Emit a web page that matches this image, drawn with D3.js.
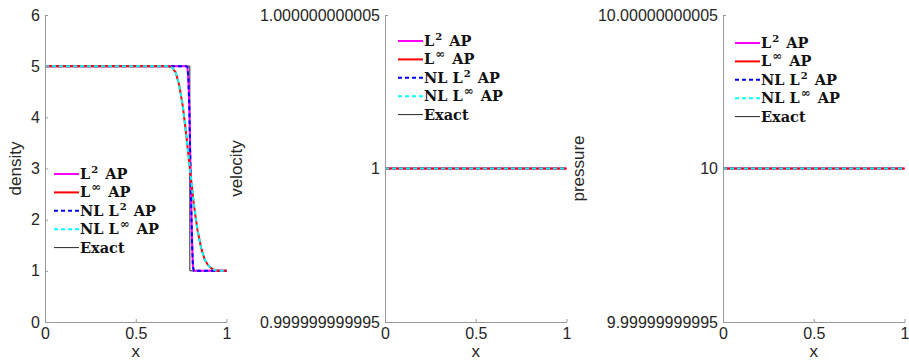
<!DOCTYPE html>
<html>
<head>
<meta charset="utf-8">
<script src="https://cdn.jsdelivr.net/npm/d3@7"></script>
<style>
  body { margin: 0; background: #fff; }
  svg { display: block; }
  .tick text { font-family: "Liberation Sans", Arial, sans-serif; font-size: 16px; fill: #262626; }
  .lab { font-family: "Liberation Sans", Arial, sans-serif; font-size: 17px; fill: #262626; }
  .leg { font-family: "DejaVu Serif", "Liberation Serif", serif; font-weight: bold; font-size: 14.5px; fill: #111; }
</style>
</head>
<body>
<div id="chart"></div>
<script>
const width = 909, height = 362;

// density curves
const xSharp = [0, 0.78, 0.785, 0.79, 0.795, 0.80, 0.805, 0.81, 0.815, 0.82, 1];
const rhoSharp = [5, 5, 4.98, 4.75, 4.2, 3.3, 2.4, 1.6, 1.08, 1.0, 1];
const xSmooth = [0, 0.68, 0.70, 0.72, 0.74, 0.76, 0.78, 0.80, 0.82, 0.84, 0.86, 0.88, 0.90, 0.92, 0.94, 0.96, 1];
const rhoSmooth = [5, 5, 4.97, 4.88, 4.62, 4.2, 3.6, 2.95, 2.3, 1.8, 1.45, 1.22, 1.1, 1.04, 1.01, 1.0, 1];
const xExact = [0, 0.798, 0.798, 1];
const rhoExact = [5, 5, 1, 1];

// velocity and pressure stay constant
const xConst = [0, 1];
const velocity = [1, 1];
const pressure = [10, 10];

const xTicks = [0, 0.5, 1];
const xTickLabels = ["0", "0.5", "1"];
const rhoTicks = [0, 1, 2, 3, 4, 5, 6];
const velTicks = [1 - 5e-12, 1, 1 + 5e-12];
const velTickLabels = ["0.999999999995", "1", "1.000000000005"];
const presTicks = [10 - 5e-11, 10, 10 + 5e-11];
const presTickLabels = ["9.99999999995", "10", "10.00000000005"];

const seriesNames = [["L", "2", "AP"], ["L", "∞", "AP"], ["NL L", "2", "AP"], ["NL L", "∞", "AP"], ["Exact", "", ""]];
const seriesColors = ["#ff00ff", "#ff0000", "#0000ff", "#00ffff", "#262626"];
const seriesDash = [null, null, "4,3", "4,3", null];
const seriesWidth = [2, 2, 2, 2, 1];
const drawOrder = [4, 0, 2, 1, 3]; // exact goes underneath

const svg = d3.select("#chart").append("svg").attr("width", width).attr("height", height);

const panels = [
  { left: 45, ylabel: "density", ylabX: 21, domain: [0, 6], ticks: rhoTicks, labels: rhoTicks.map(String),
    series: [[xSharp, rhoSharp], [xSmooth, rhoSmooth], [xSharp, rhoSharp], [xSmooth, rhoSmooth], [xExact, rhoExact]],
    legX: 54, legY: 174 },
  { left: 385, ylabel: "velocity", ylabX: 242, domain: [velTicks[0], velTicks[2]], ticks: velTicks, labels: velTickLabels,
    series: d3.range(5).map(() => [xConst, velocity]), legX: 398, legY: 41 },
  { left: 723, ylabel: "pressure", ylabX: 584, domain: [presTicks[0], presTicks[2]], ticks: presTicks, labels: presTickLabels,
    series: d3.range(5).map(() => [xConst, pressure]), legX: 735, legY: 43 }
];

const plotTop = 15, plotBottom = 322, pw = 181.5;

panels.forEach(p => {
  const g = svg.append("g");
  const x = d3.scaleLinear().domain([0, 1]).range([p.left, p.left + pw]);
  const y = d3.scaleLinear().domain(p.domain).range([plotBottom, plotTop]);

  // curves
  const line = d3.line().x(d => x(d[0])).y(d => y(d[1]));
  drawOrder.forEach(i => {
    const s = p.series[i];
    g.append("path")
      .datum(s[0].map((v, j) => [v, s[1][j]]))
      .attr("d", line)
      .attr("fill", "none")
      .attr("stroke", seriesColors[i])
      .attr("stroke-width", seriesWidth[i])
      .attr("stroke-dasharray", seriesDash[i]);
  });

  // axes
  const xa = g.append("g").attr("transform", `translate(0,${plotBottom})`)
    .call(d3.axisBottom(x).tickValues(xTicks).tickFormat((d, i) => xTickLabels[i]).tickSizeInner(-3).tickSizeOuter(0).tickPadding(6));
  const ya = g.append("g").attr("transform", `translate(${p.left},0)`)
    .call(d3.axisLeft(y).tickValues(p.ticks).tickFormat((d, i) => p.labels[i]).tickSizeInner(-3).tickSizeOuter(0).tickPadding(5));
  [xa, ya].forEach(a => {
    a.select(".domain").attr("stroke", "#999");
    a.selectAll(".tick line").attr("stroke", "#999");
  });

  g.append("text").attr("class", "lab").attr("x", p.left + pw / 2).attr("y", 357)
    .attr("text-anchor", "middle").text("x");
  g.append("text").attr("class", "lab").attr("text-anchor", "middle")
    .attr("transform", `translate(${p.ylabX},${(plotTop + plotBottom) / 2}) rotate(-90)`).text(p.ylabel);

  // legend
  seriesNames.forEach((nm, i) => {
    const yy = p.legY + i * 18.4;
    g.append("line").attr("x1", p.legX).attr("x2", p.legX + 25).attr("y1", yy).attr("y2", yy)
      .attr("stroke", seriesColors[i]).attr("stroke-width", seriesWidth[i]).attr("stroke-dasharray", seriesDash[i]);
    const t = g.append("text").attr("class", "leg").attr("x", p.legX + 26).attr("y", yy + 5);
    t.append("tspan").text(nm[0]);
    if (nm[1]) t.append("tspan").attr("font-size", nm[1] === "2" ? 10 : 12).attr("dy", -6).attr("dx", 1).text(nm[1]);
    if (nm[2]) t.append("tspan").attr("dy", 6).attr("dx", 7).text(nm[2]);
  });
});
</script>
</body>
</html>
